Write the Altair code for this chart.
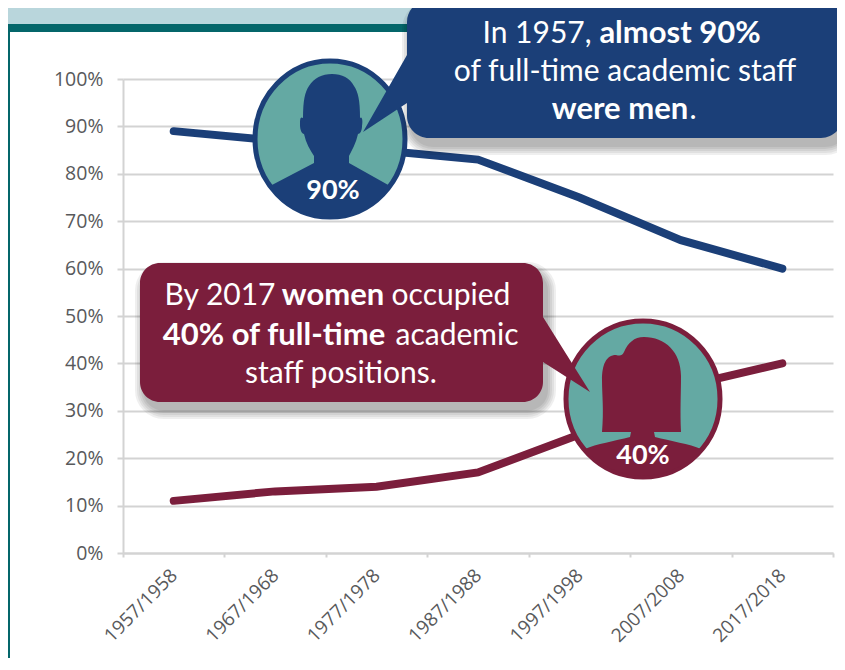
import altair as alt

years = ["1957/1958", "1967/1968", "1977/1978", "1987/1988", "1997/1998", "2007/2008", "2017/2018"]
men = [89, 87, 85, 83, 75, 66, 60]
women = [11, 13, 14, 17, 25, 35, 40]

NAVY = "#1b3f78"
MAROON = "#7b1e3c"
TEAL = "#64a9a3"
GRID = "#d3d3d3"
LABEL = "#58595b"
FONT = "Open Sans"

rows = [{"year": y, "group": "Men", "share": v} for y, v in zip(years, men)] + \
       [{"year": y, "group": "Women", "share": v} for y, v in zip(years, women)]

LEFT, TOP = 115, 71
VX, VY = LEFT + 8, TOP + 8  # screen position of the plot's origin
blank = alt.Data(values=[{"a": 1}])


def shape(path, fill, stroke=None, width=0, opacity=1.0):
    """Draw an SVG path given in screen pixels."""
    kw = {"stroke": stroke, "strokeWidth": width, "strokeJoin": "round"} if stroke else {"strokeWidth": 0}
    return alt.Chart(blank).mark_point(shape=path, size=4, filled=True, fill=fill, opacity=opacity, **kw).encode(
        x=alt.value(-VX), y=alt.value(-VY))


def label(txt, cx, base, bold=False, size=None, color="white", font="Lato"):
    size = size or (31 if bold else 30)
    return alt.Chart(blank).mark_text(text=txt, font=font, fontSize=size, fontWeight="bold" if bold else "normal",
                                      color=color, align="center", baseline="alphabetic").encode(
        x=alt.value(cx - VX), y=alt.value(base - VY))


def band(x0, y0, x1, y1, color):
    return alt.Chart(blank).mark_rect(color=color, opacity=1).encode(
        x=alt.value(x0 - VX), x2=alt.value(x1 - VX), y=alt.value(y0 - VY), y2=alt.value(y1 - VY))


ellipse_men = "M 255 139 A 75 78 0 1 1 405 139 A 75 78 0 1 1 255 139 Z"
ellipse_women = "M 566 399 A 77 78 0 1 1 720 399 A 77 78 0 1 1 566 399 Z"

head_men = ("M 332 74 C 342 74 350 78 354 86 C 358 92 360 100 360 118 C 362 116 363 120 362 126 "
            "C 362 131 360 134 358 134 C 356 143 352 150 349 156 L 349 163 L 390 186 A 75 78 0 0 1 270 186 "
            "L 314 163 L 314 156 C 310 150 306 143 304 134 C 302 134 300 130 300 125 C 300 120 300 116 303 118 "
            "C 303 100 305 92 309 86 C 314 78 322 74 332 74 Z")
head_women = ("M 644 337 C 665 337 681 352 681 376 C 681 395 680 410 681 432 L 654 432 L 655 437 "
              "C 670 441 690 444 701 449 A 77 78 0 0 1 585 449 C 596 444 615 441 630 437 L 631 432 L 602 432 "
              "C 604 410 602 395 602 380 C 602 365 606 355 616 355 C 620 356 622 356 624 352 "
              "C 628 343 634 337 644 337 Z")

box_men = ("M 429 0 H 821 A 22 22 0 0 1 843 22 V 116 A 22 22 0 0 1 821 138 H 429 A 22 22 0 0 1 407 116 "
           "V 103 L 363 132 L 407 55 V 22 A 22 22 0 0 1 429 0 Z")
box_women = ("M 160 263 H 523 A 20 20 0 0 1 543 283 V 317 L 590 392 L 543 362 V 382 A 20 20 0 0 1 523 402 "
             "H 160 A 20 20 0 0 1 140 382 V 283 A 20 20 0 0 1 160 263 Z")
shadow_men = "M 433 8 H 825 A 22 22 0 0 1 847 30 V 124 A 22 22 0 0 1 825 146 H 433 A 22 22 0 0 1 411 124 V 30 A 22 22 0 0 1 433 8 Z"
shadow_women = "M 164 271 H 527 A 20 20 0 0 1 547 291 V 390 A 20 20 0 0 1 527 410 H 164 A 20 20 0 0 1 144 390 V 291 A 20 20 0 0 1 164 271 Z"


def shadow(path):
    return [shape(path, "black", "black", w, 0.06) for w in (18, 14, 10, 6, 2)]


# (text, centre x, baseline y, bold)
men_text = [("In 1957,", 537, 43, False), ("almost 90%", 680, 43, True),
            ("of full-time academic staff", 625, 81, False),
            ("were men", 620, 119, True), (".", 693, 119, False)]
women_text = [("By 2017", 220, 305, False), ("women", 333, 305, True), ("occupied", 451, 305, False),
              ("40% of full-time", 274, 345, True), ("academic", 457, 345, False),
              ("staff positions.", 341, 383, False)]

base = alt.Chart(alt.Data(values=rows))
lines = base.mark_line(strokeWidth=8, strokeCap="round", strokeJoin="miter").encode(
    x=alt.X("year:N", sort=years, title=None, scale=alt.Scale(paddingInner=0, paddingOuter=0),
            axis=alt.Axis(labelAngle=-45, labelAlign="right", labelBaseline="middle", labelFont=FONT, labelFontSize=19,
                          labelColor=LABEL, tickBand="extent", tickColor=GRID, tickWidth=2, tickSize=4,
                          domainColor=GRID, domainWidth=2, labelPadding=15, labelOverlap=False)),
    y=alt.Y("share:Q", title=None, scale=alt.Scale(domain=[0, 100]),
            axis=alt.Axis(values=list(range(0, 101, 10)), labelExpr="datum.value + '%'", grid=True, gridColor=GRID,
                          gridWidth=2, tickColor=GRID, tickWidth=2, tickSize=6, domainColor=GRID, domainWidth=2,
                          labelFont=FONT, labelFontSize=19.5, labelColor=LABEL, labelPadding=14)),
    color=alt.Color("group:N", legend=None, scale=alt.Scale(domain=["Men", "Women"], range=[NAVY, MAROON])),
)

layers = [
    band(0, 0, 845, 24, "#b9d6dc"),
    band(0, 24, 845, 32, "#04666a"),
    band(8, 32, 10, 670, "#04666a"),
    lines,
    shape(ellipse_men, TEAL, NAVY, 5),
    shape(head_men, NAVY),
    shape(ellipse_women, TEAL, MAROON, 5),
    shape(head_women, MAROON),
    *shadow(shadow_men),
    shape(box_men, NAVY),
    *shadow(shadow_women),
    shape(box_women, MAROON),
    label("90%", 333, 199, True, 27),
    label("40%", 643, 464, True, 27),
]
layers += [label(t, x, y, b) for t, x, y, b in men_text + women_text]

chart = alt.layer(*layers).properties(
    width=710, height=474, background="white",
    padding={"left": LEFT, "top": TOP, "right": 4, "bottom": 105},
    autosize=alt.AutoSizeParams(type="none"),
).configure_view(stroke=None)

chart.save("out.html", embed_options={"renderer": "svg", "actions": False})
